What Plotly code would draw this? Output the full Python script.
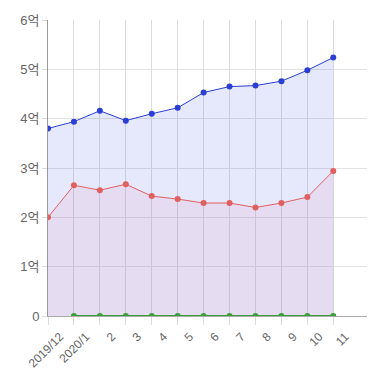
import plotly.graph_objects as go

categories = ["2019/12", "2020/1", "2", "3", "4", "5", "6", "7", "8", "9", "10", "11"]
blue_vals = [3.80, 3.94, 4.16, 3.96, 4.10, 4.22, 4.53, 4.65, 4.67, 4.76, 4.98, 5.24]
red_vals = [2.00, 2.65, 2.55, 2.67, 2.43, 2.37, 2.29, 2.29, 2.20, 2.29, 2.41, 2.94]
green_vals = [None, 0, 0, 0, 0, 0, 0, 0, 0, 0, 0, 0]
ytick_vals = [0, 1, 2, 3, 4, 5, 6]
ytick_text = ["0", "1억", "2억", "3억", "4억", "5억", "6억"]

x = list(range(len(categories)))

fig = go.Figure()
fig.add_trace(go.Scatter(
    x=x, y=blue_vals, mode="lines+markers",
    line=dict(color="#2b3fd6", width=1),
    marker=dict(color="#2b3fd6", size=6),
    fill="tozeroy", fillcolor="rgba(60,80,235,0.13)",
))
fig.add_trace(go.Scatter(
    x=x, y=red_vals, mode="lines+markers",
    line=dict(color="#e06060", width=1),
    marker=dict(color="#e06060", size=6),
    fill="tozeroy", fillcolor="rgba(236,150,180,0.14)",
))
fig.add_trace(go.Scatter(
    x=x, y=green_vals, mode="lines+markers",
    line=dict(color="#3a9f3a", width=2),
    marker=dict(color="#3a9f3a", size=6),
))

fig.update_layout(
    width=378, height=369,
    margin=dict(l=48, r=11, t=20, b=53),
    plot_bgcolor="white", paper_bgcolor="white",
    showlegend=False,
    font=dict(family="Liberation Sans, Noto Sans CJK KR, sans-serif", size=12, color="#666"),
    xaxis=dict(
        range=[0, 12.3], tickvals=x, ticktext=categories,
        tickangle=-45, showgrid=True, gridcolor="#dcdcdc", gridwidth=1,
        showline=True, linecolor="#aaaaaa", linewidth=1,
        ticks="outside", ticklen=8, tickcolor="#dcdcdc",
        zeroline=False, ticklabelshift=12, automargin=False,
        tickfont=dict(size=12, color="#666"),
    ),
    yaxis=dict(
        range=[0, 6], tickvals=ytick_vals, ticktext=ytick_text,
        showgrid=True, gridcolor="#e3e3e3", gridwidth=1,
        showline=True, linecolor="#999999", linewidth=1,
        ticks="outside", ticklen=5, tickcolor="#dcdcdc",
        zeroline=False, automargin=False,
        tickfont=dict(size=13, color="#666"),
    ),
)

fig.write_html(
    "out.html",
    config={"displayModeBar": False},
    post_script="document.body.style.margin='0';document.body.style.overflow='hidden';",
)
